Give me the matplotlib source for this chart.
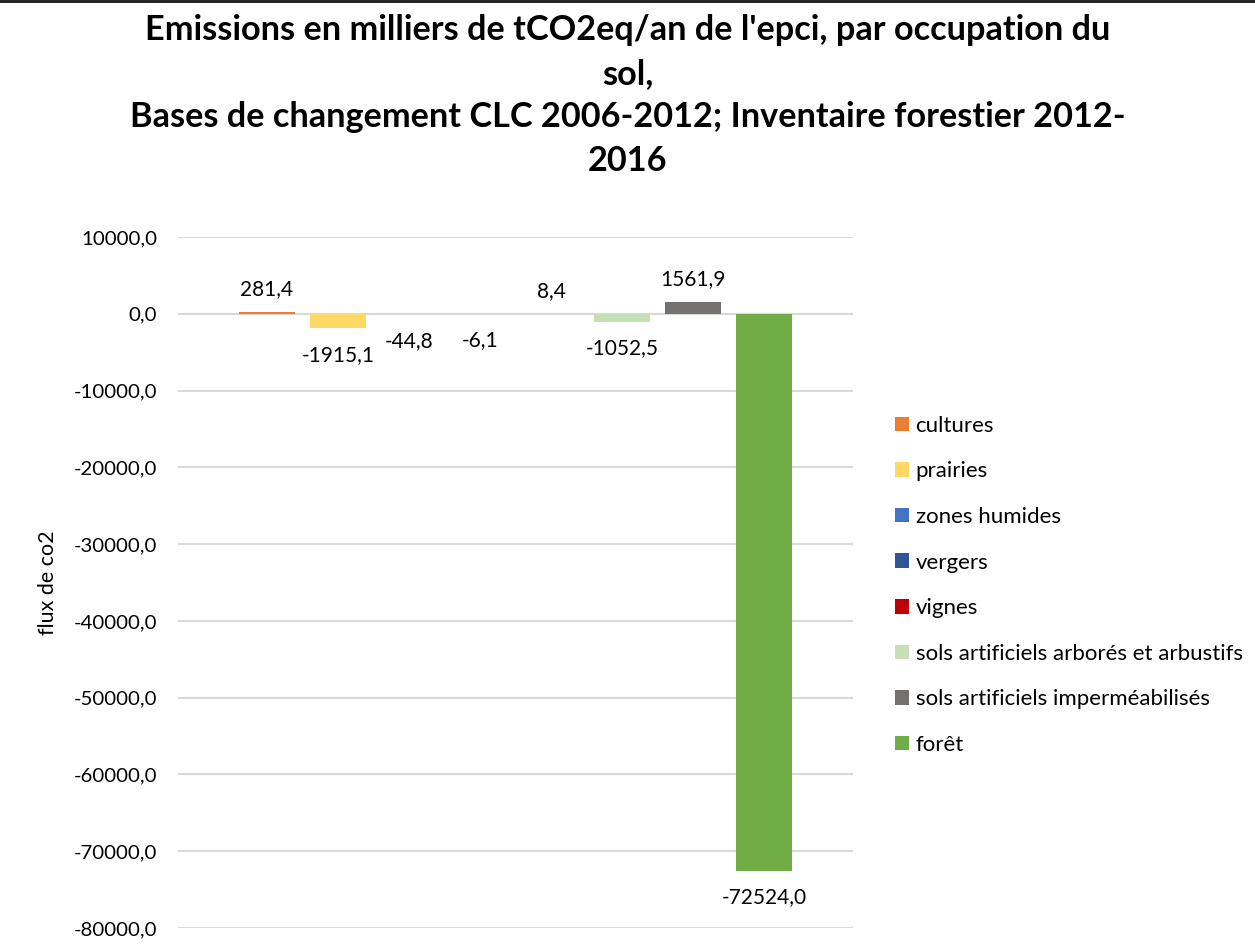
import matplotlib
matplotlib.use("Agg")
import matplotlib.pyplot as plt
from matplotlib.patches import Rectangle, Patch

categories = ["cultures", "prairies", "zones humides", "vergers", "vignes",
              "sols artificiels arborés et arbustifs",
              "sols artificiels imperméabilisés", "forêt"]
values = [281.4, -1915.1, -44.8, -6.1, 8.4, -1052.5, 1561.9, -72524.0]
colors = ["#ED7D31", "#FFD966", "#4472C4", "#2F5597", "#C00000",
          "#C5E0B4", "#767171", "#70AD47"]
yticks = [10000, 0, -10000, -20000, -30000, -40000, -50000, -60000, -70000, -80000]

FONT = "Lato"
plt.rcParams["font.family"] = [FONT, "DejaVu Sans"]

fig = plt.figure(figsize=(12.55, 9.5), dpi=100)
ax = fig.add_axes([178/1255, 1-928/950, (853-178)/1255, (928-237)/950])

x = list(range(len(values)))
bars = ax.bar(x, values, width=0.79, color=colors)

def fmt(v):
    return f"{v:.1f}".replace(".", ",")

for xi, v in zip(x, values):
    if v >= 0:
        ax.annotate(fmt(v), (xi, v), xytext=(0, 9), textcoords="offset points",
                    ha="center", va="bottom", fontsize=15, color="#000000")
    else:
        ax.annotate(fmt(v), (xi, v), xytext=(0, -12), textcoords="offset points",
                    ha="center", va="top", fontsize=15, color="#000000")

ax.set_xlim(-1.25, 8.25)
ax.set_ylim(-80000, 10000)
ax.set_yticks(yticks)
ax.set_yticklabels([fmt(t) for t in yticks], fontsize=14.7)
ax.set_xticks([])
ax.tick_params(axis="y", length=0, pad=15)
ax.yaxis.grid(True, color="#D9D9D9", linewidth=1.5)
ax.set_axisbelow(True)
for s in ax.spines.values():
    s.set_visible(False)

ax.set_ylabel("flux de co2", fontsize=15.5, labelpad=11)

fig.text(0.5, 1-14/950, "Emissions en milliers de tCO2eq/an de l'epci, par occupation du\nsol,\nBases de changement CLC 2006-2012; Inventaire forestier 2012-\n2016",
         ha="center", va="top", fontsize=24.7, fontweight="bold", linespacing=1.45)

handles = [Patch(facecolor=c, edgecolor="none") for c in colors]
leg = fig.legend(handles, categories, loc="upper left",
                 bbox_to_anchor=(886/1255, 1-407/950), frameon=False,
                 fontsize=16, handlelength=0.63, handleheight=0.63,
                 handletextpad=0.3, labelspacing=1.15, borderaxespad=0)

fig.add_artist(Rectangle((0, 1-3/950), 1, 3/950, transform=fig.transFigure,
                         facecolor="#262626", edgecolor="none"))

fig.savefig("out.png", dpi=100)
